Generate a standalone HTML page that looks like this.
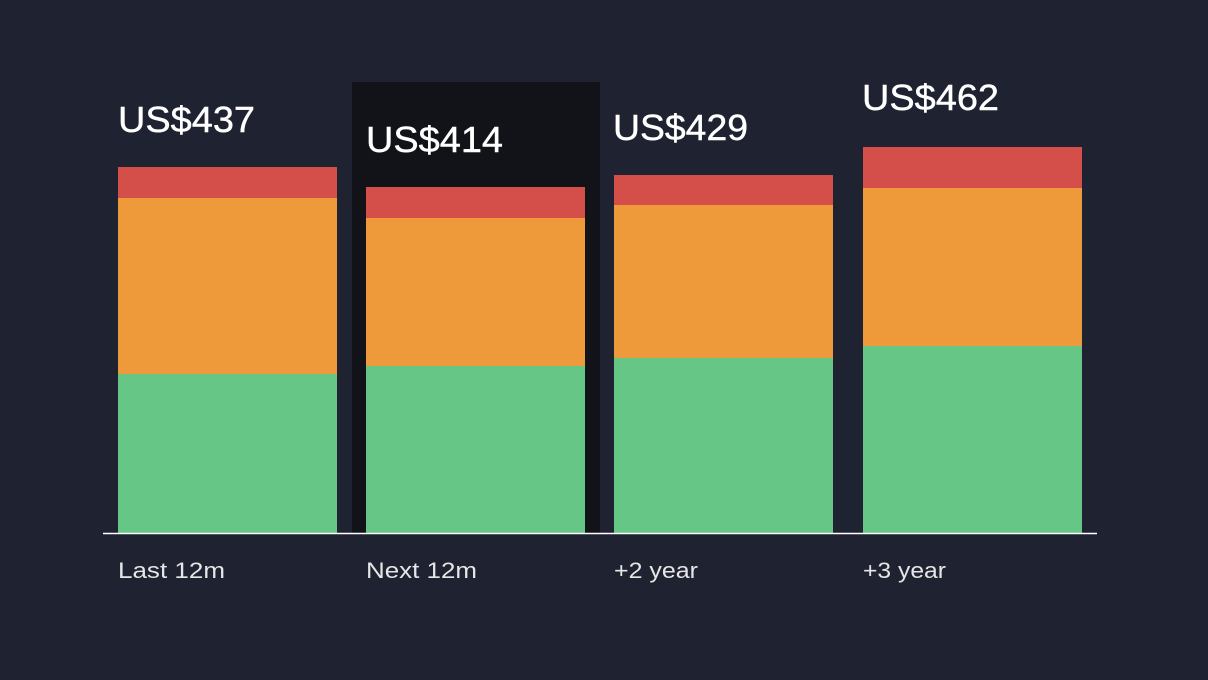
<!DOCTYPE html>
<html><head><style>
html,body{margin:0;padding:0;background:#1f2230;}
</style></head><body>
<svg width="1208" height="680" xmlns="http://www.w3.org/2000/svg" style="display:block">
<rect width="1208" height="680" fill="#1f2230"/>
<rect x="352" y="82" width="248" height="451" fill="#111318"/>
<g>
<rect x="118" y="167" width="219" height="31" fill="#d44f4a"/>
<rect x="118" y="198" width="219" height="176" fill="#ee993a"/>
<rect x="118" y="374" width="219" height="159" fill="#65c685"/>
<rect x="366" y="187" width="219" height="31" fill="#d44f4a"/>
<rect x="366" y="218" width="219" height="148" fill="#ee993a"/>
<rect x="366" y="366" width="219" height="167" fill="#65c685"/>
<rect x="614" y="175" width="219" height="30" fill="#d44f4a"/>
<rect x="614" y="205" width="219" height="153" fill="#ee993a"/>
<rect x="614" y="358" width="219" height="175" fill="#65c685"/>
<rect x="863" y="147" width="219" height="41" fill="#d44f4a"/>
<rect x="863" y="188" width="219" height="158" fill="#ee993a"/>
<rect x="863" y="346" width="219" height="187" fill="#65c685"/>
</g>
<line x1="103" y1="533.5" x2="1097" y2="533.5" stroke="#ffffff" stroke-width="1.5"/>
<g font-family="Liberation Sans, sans-serif" font-size="36" fill="#ffffff" stroke="#ffffff" stroke-width="0.4" lengthAdjust="spacingAndGlyphs">
<text x="118" y="132" textLength="137" lengthAdjust="spacingAndGlyphs">US$437</text>
<text x="366" y="152" textLength="137" lengthAdjust="spacingAndGlyphs">US$414</text>
<text x="613" y="140" textLength="135" lengthAdjust="spacingAndGlyphs">US$429</text>
<text x="862" y="110" textLength="137" lengthAdjust="spacingAndGlyphs">US$462</text>
</g>
<g font-family="Liberation Sans, sans-serif" font-size="22" fill="#e6e6e6">
<text x="118" y="578" textLength="107" lengthAdjust="spacingAndGlyphs">Last 12m</text>
<text x="366" y="578" textLength="111" lengthAdjust="spacingAndGlyphs">Next 12m</text>
<text x="614" y="578" textLength="84" lengthAdjust="spacingAndGlyphs">+2 year</text>
<text x="863" y="578" textLength="83" lengthAdjust="spacingAndGlyphs">+3 year</text>
</g>
</svg>
</body></html>
